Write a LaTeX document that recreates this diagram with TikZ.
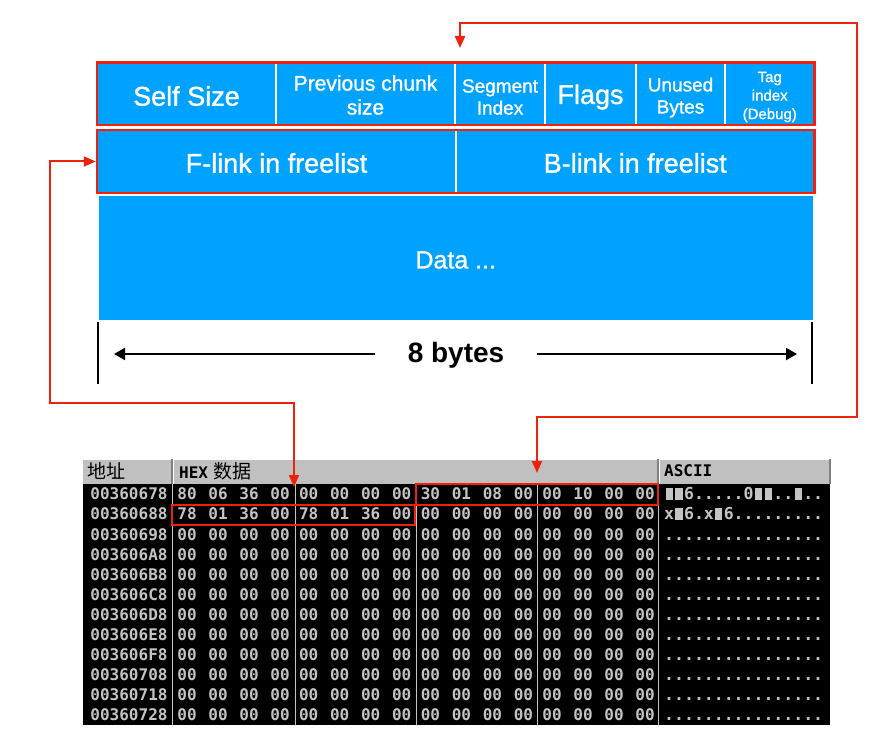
\documentclass[tikz,border=0pt]{standalone}
\usepackage{fontspec}
\setmainfont{Liberation Sans}
\newfontfamily\medfont{Liberation Sans}[FakeBold=1.2]
\newfontfamily\hexfont{DejaVu Sans Mono}
\newfontfamily\cjkfont{Noto Sans CJK SC}
\usetikzlibrary{arrows.meta}
\definecolor{kblue}{HTML}{00A2FF}
\definecolor{kred}{HTML}{EE220C}
\definecolor{hexgray}{HTML}{C4C4C4}
\definecolor{hdrgray}{HTML}{C0C0C0}
\definecolor{hdrdark}{HTML}{808080}
\newcommand{\blk}{\makebox[0.602em]{\rule{0.44em}{0.72em}}}
\begin{document}
\begin{tikzpicture}[x=1pt,y=-1pt,
  cell/.style={draw=white, line width=1.5pt, fill=kblue, text=white, inner sep=0pt, align=center},
  redframe/.style={draw=kred, line width=2.5pt, inner sep=0pt},
  hexframe/.style={draw=kred, line width=2pt, inner sep=0pt},
  redconn/.style={draw=kred, line width=2pt, {Triangle[length=12pt,width=10pt]}-{Triangle[length=12pt,width=10pt]}},
  dimarrow/.style={line width=2pt, -{Triangle[length=11pt,width=12pt]}},
  hexbyte/.style={text=hexgray, font=\hexfont\bfseries\fontsize{16}{16}\selectfont, inner sep=0pt, text height=11.7pt, text depth=0pt},
  hexasc/.style={hexbyte, anchor=west, font=\hexfont\bfseries\fontsize{16.5}{16.5}\selectfont},
  hexhead/.style={text=black, inner sep=0pt, anchor=west},
  big/.style={font=\medfont\fontsize{27}{30}\selectfont},
  mid/.style={font=\medfont\fontsize{21}{24}\selectfont},
  small/.style={font=\medfont\fontsize{19}{22}\selectfont},
  tiny/.style={font=\medfont\fontsize{15}{18.5}\selectfont}
]
\useasboundingbox (0,0) rectangle (886,746);
\fill[white] (0,0) rectangle (886,746);

% top row
\node[cell, minimum width=179pt, minimum height=62.5pt] (selfsize) at (186.5,93.75) {};
\node[cell, minimum width=179pt, minimum height=62.5pt] (prevsize) at (365.5,93.75) {};
\node[cell, minimum width=90pt, minimum height=62.5pt] (segidx) at (500,93.75) {};
\node[cell, minimum width=91pt, minimum height=62.5pt] (flags) at (590.5,93.75) {};
\node[cell, minimum width=89pt, minimum height=62.5pt] (unused) at (680.5,93.75) {};
\node[cell, minimum width=89.5pt, minimum height=62.5pt] (tagidx) at (769.75,93.75) {};
\node[big, text=white, align=center] (tselfsize) at (186.5,96) {Self Size};
\node[mid, text=white, align=center] (tprevsize) at (365.5,95) {Previous chunk\\size};
\node[small, text=white, align=center] (tsegidx) at (500,97) {Segment\\Index};
\node[big, text=white, align=center] (tflags) at (590.5,97) {Flags};
\node[small, text=white, align=center] (tunused) at (680.5,97.5) {Unused\\Bytes};
\node[tiny, text=white, align=center] (ttagidx) at (769.75,97) {Tag\\index\\(Debug)};

% second row
\node[cell, minimum width=359pt, minimum height=63pt] (flink) at (276.5,161.5) {};
\node[cell, minimum width=358.5pt, minimum height=63pt] (blink) at (635.25,161.5) {};
\node[big, text=white] (tflink) at (276.5,163) {F-link in freelist};
\node[big, text=white] (tblink) at (635.25,163) {B-link in freelist};

% data
\node[cell, minimum width=716pt, minimum height=126pt] (data) at (455.75,258) {};
\node[text=white, font=\medfont\fontsize{25}{28}\selectfont] (tdata) at (455.75,260) {Data ...};

% red frames
\node[redframe, minimum width=717.5pt, minimum height=62.5pt] (hdr) at (455.75,93.75) {};
\node[redframe, minimum width=717.5pt, minimum height=63pt] (link) at (455.75,161.5) {};

% dimension
\draw[line width=2pt] (98,322) -- (98,384);
\draw[line width=2pt] (812,322) -- (812,384);
\node[font=\bfseries\fontsize{28}{30}\selectfont, inner xsep=33pt, inner ysep=0pt] (bytes) at (456,355) {8 bytes};
\coordinate (dimL) at (114,354);
\coordinate (dimR) at (797,354);
\draw[dimarrow] (bytes.west |- dimL) -- (dimL);
\draw[dimarrow] (bytes.east |- dimR) -- (dimR);

% hex table header
\fill[hdrgray] (83,459) rectangle (830,484);
\draw[white, line width=1pt] (83,459.5) -- (830,459.5);
\foreach \x in {172,658} {
  \draw[hdrdark, line width=1.2pt] (\x,459) -- (\x,484);
  \draw[white, line width=0.8pt] (\x+1.2,460) -- (\x+1.2,484);
}
\draw[hdrdark, line width=1.2pt] (830,459) -- (830,484);
\node[hexhead, font=\cjkfont\fontsize{19}{19}\selectfont] (haddr) at (87,471) {地址};
\node[hexhead] (hhex) at (179,471) {{\hexfont\bfseries\fontsize{16}{16}\selectfont HEX}\hspace{5pt}{\cjkfont\fontsize{19}{19}\selectfont 数据}};
\node[hexhead, font=\hexfont\bfseries\fontsize{16}{16}\selectfont] (hasc) at (664,471) {ASCII};

% hex table body
\fill[black] (83,484) rectangle (830,725);
\foreach \x in {172,295,416,537,658}
  \draw[hexgray, line width=1pt] (\x,484) -- (\x,725);

\foreach \a [count=\r from 0] in {00360678,00360688,00360698,003606A8,003606B8,003606C8,003606D8,003606E8,003606F8,00360708,00360718,00360728}
  \node[hexbyte] (addr\r) at (129,{494+20.1*\r}) {\a};

\foreach \b [count=\i from 0] in {80,06,36,00,00,00,00,00,30,01,08,00,00,10,00,00}
  \node[hexbyte] (b0-\i) at ({187+121.7*int(\i/4)+31*mod(\i,4)},494) {\b};
\foreach \b [count=\i from 0] in {78,01,36,00,78,01,36,00,00,00,00,00,00,00,00,00}
  \node[hexbyte] (b1-\i) at ({187+121.7*int(\i/4)+31*mod(\i,4)},514.1) {\b};
\foreach \r in {2,...,11}
  \foreach \i in {0,...,15}
    \node[hexbyte] (b\r-\i) at ({187+121.7*int(\i/4)+31*mod(\i,4)},{494+20.1*\r}) {00};

\node[hexasc] (asc0) at (664,494) {\blk\blk6.....0\blk\blk..\blk..};
\node[hexasc] (asc1) at (664,514.1) {x\blk6.x\blk6.........};
\foreach \r in {2,...,11}
  \node[hexasc] (asc\r) at (664,{494+20.1*\r}) {................};

% red boxes in hex dump
\node[hexframe, minimum width=242pt, minimum height=21pt] (hexA) at (537,494.5) {};
\node[hexframe, minimum width=243pt, minimum height=20pt] (hexB) at (293.5,515) {};

% connectors
\coordinate (lturn) at (50,403);
\coordinate (ltip) at (294,487);
\draw[redconn] (link.west) -| (lturn) -| (ltip);
\coordinate (ttip) at (460,48);
\coordinate (rtop) at (857,23);
\coordinate (rbot) at (857,417);
\coordinate (rtip) at (537,473);
\draw[redconn] (ttip) |- (rtop) -- (rbot) -| (rtip);
\end{tikzpicture}
\end{document}
